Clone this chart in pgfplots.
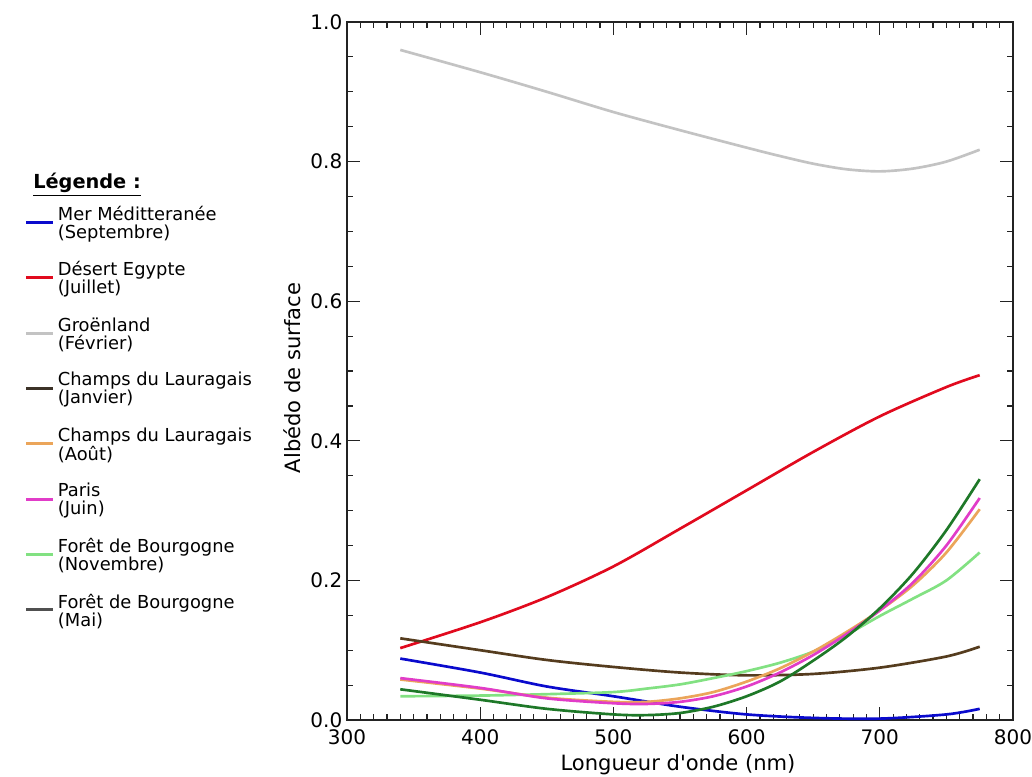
\documentclass[border=0pt]{standalone}
\usepackage{fontspec}
\setmainfont{DejaVu Sans}
\newfontfamily\plainfont{DejaVu Sans}
\usepackage{pgfplots}
\pgfplotsset{compat=1.18}
\definecolor{cblue}{RGB}{10,10,205}
\definecolor{cred}{RGB}{225,10,30}
\definecolor{cgray}{RGB}{195,195,195}
\definecolor{cbrown}{RGB}{85,60,30}
\definecolor{cbrownleg}{RGB}{60,50,40}
\definecolor{corange}{RGB}{235,165,90}
\definecolor{cpink}{RGB}{225,60,200}
\definecolor{clgreen}{RGB}{130,225,130}
\definecolor{cdgreen}{RGB}{30,120,40}
\definecolor{cdgreenleg}{RGB}{80,80,80}
\definecolor{caxis}{RGB}{35,35,35}
\newcommand\LE[2]{\parbox[c][41.25pt][c]{155pt}{#1\\#2}}
\begin{document}
\begin{tikzpicture}
\useasboundingbox (-260.25pt,-42pt) rectangle (513.75pt,540pt);
\begin{axis}[
  at={(0pt,0pt)}, anchor=south west,
  scale only axis, width=499.5pt, height=523.5pt,
  xmin=300, xmax=800, ymin=0, ymax=1,
  xtick={300,400,500,600,700,800},
  ytick={0,0.2,0.4,0.6,0.8,1},
  minor x tick num=9, minor y tick num=3,
  tick align=inside,
  major tick length=10pt, minor tick length=4.5pt,
  axis line style={caxis, line width=1.1pt},
  every tick/.style={caxis, line width=0.9pt},
  /pgf/number format/assume math mode=true,
  yticklabel style={/pgf/number format/.cd, fixed, fixed zerofill, precision=1},
  xticklabel style={yshift=-4pt, /pgf/number format/.cd, fixed, precision=0},
  tick label style={font=\fontsize{15}{16}\selectfont, text=black},
  xlabel={Longueur d{\plainfont '}onde (nm)},
  ylabel={Albédo de surface},
  every axis x label/.style={at={(axis description cs:0.497,-0.0645)}, anchor=center, font=\fontsize{15.8}{17}\selectfont},
  every axis y label/.style={at={(axis description cs:-0.0826,0.49)}, anchor=center, rotate=90, font=\fontsize{15.8}{17}\selectfont},
  clip=false,
  legend image code/.code={\draw[#1, line width=2.2pt] (0pt,-6.75pt) -- (20.25pt,-6.75pt);},
  legend cell align=left,
  legend style={draw=none, fill=none, at={(-0.4835,0.750)}, anchor=north west,
    inner sep=0pt, outer sep=0pt, column sep=2.25pt, row sep=15.75pt,
    font=\fontsize{13.4}{13.5}\selectfont,
    nodes={inner sep=0pt}},
]
% Groenland (Fevrier)
\addplot[cgray, line width=2pt, smooth, forget plot] coordinates {
 (340,0.960) (400,0.928) (450,0.900) (500,0.871) (550,0.845) (600,0.820)
 (625,0.808) (650,0.797) (675,0.789) (700,0.786) (725,0.790) (750,0.800) (775,0.817)};
% Desert Egypte (Juillet)
\addplot[cred, line width=2pt, smooth, forget plot] coordinates {
 (340,0.103) (400,0.140) (450,0.176) (500,0.220) (550,0.274) (600,0.329)
 (650,0.384) (700,0.435) (750,0.477) (775,0.494)};
% Champs du Lauragais (Janvier)
\addplot[cbrown, line width=2pt, smooth, forget plot] coordinates {
 (340,0.117) (400,0.100) (450,0.086) (500,0.076) (550,0.068) (600,0.064)
 (650,0.066) (700,0.075) (750,0.091) (775,0.105)};
% Mer Mediterranee (Septembre)
\addplot[cblue, line width=2pt, smooth, forget plot] coordinates {
 (340,0.088) (400,0.068) (450,0.048) (500,0.034) (550,0.019) (600,0.008)
 (650,0.003) (700,0.002) (750,0.008) (775,0.016)};
% Foret de Bourgogne (Novembre)
\addplot[clgreen, line width=2pt, smooth, forget plot] coordinates {
 (340,0.034) (400,0.035) (450,0.037) (500,0.040) (525,0.045) (550,0.051) (575,0.060)
 (600,0.070) (625,0.082) (650,0.098) (675,0.122) (700,0.149) (725,0.174) (750,0.200) (775,0.240)};
% Champs du Lauragais (Aout)
\addplot[corange, line width=2pt, smooth, forget plot] coordinates {
 (340,0.058) (400,0.045) (450,0.032) (500,0.026) (525,0.026) (550,0.031) (575,0.040)
 (600,0.055) (625,0.074) (650,0.098) (675,0.126) (700,0.157) (725,0.193) (750,0.240) (775,0.302)};
% Paris (Juin)
\addplot[cpink, line width=2pt, smooth, forget plot] coordinates {
 (340,0.060) (400,0.046) (450,0.031) (500,0.024) (525,0.023) (550,0.026) (575,0.034)
 (600,0.048) (625,0.068) (650,0.093) (675,0.123) (700,0.157) (725,0.197) (750,0.250) (775,0.318)};
% Foret de Bourgogne (Mai)
\addplot[cdgreen, line width=2pt, smooth, forget plot] coordinates {
 (340,0.044) (400,0.029) (450,0.016) (500,0.008) (525,0.007) (550,0.010) (575,0.019)
 (600,0.034) (625,0.055) (650,0.085) (675,0.119) (700,0.160) (725,0.210) (750,0.272) (775,0.345)};
\addlegendimage{cblue}\addlegendentry{\LE{Mer Méditteranée}{(Septembre)}}
\addlegendimage{cred}\addlegendentry{\LE{Désert Egypte}{(Juillet)}}
\addlegendimage{cgray}\addlegendentry{\LE{Groënland}{(Février)}}
\addlegendimage{cbrownleg}\addlegendentry{\LE{Champs du Lauragais}{(Janvier)}}
\addlegendimage{corange}\addlegendentry{\LE{Champs du Lauragais}{(Août)}}
\addlegendimage{cpink}\addlegendentry{\LE{Paris}{(Juin)}}
\addlegendimage{clgreen}\addlegendentry{\LE{Forêt de Bourgogne}{(Novembre)}}
\addlegendimage{cdgreenleg}\addlegendentry{\LE{Forêt de Bourgogne}{(Mai)}}
\end{axis}
\node[anchor=base west, inner sep=0pt, font=\fontsize{14.5}{16}\selectfont\bfseries] at (-235.5pt,398.25pt) {\underline{Légende :}};
\end{tikzpicture}
\end{document}
